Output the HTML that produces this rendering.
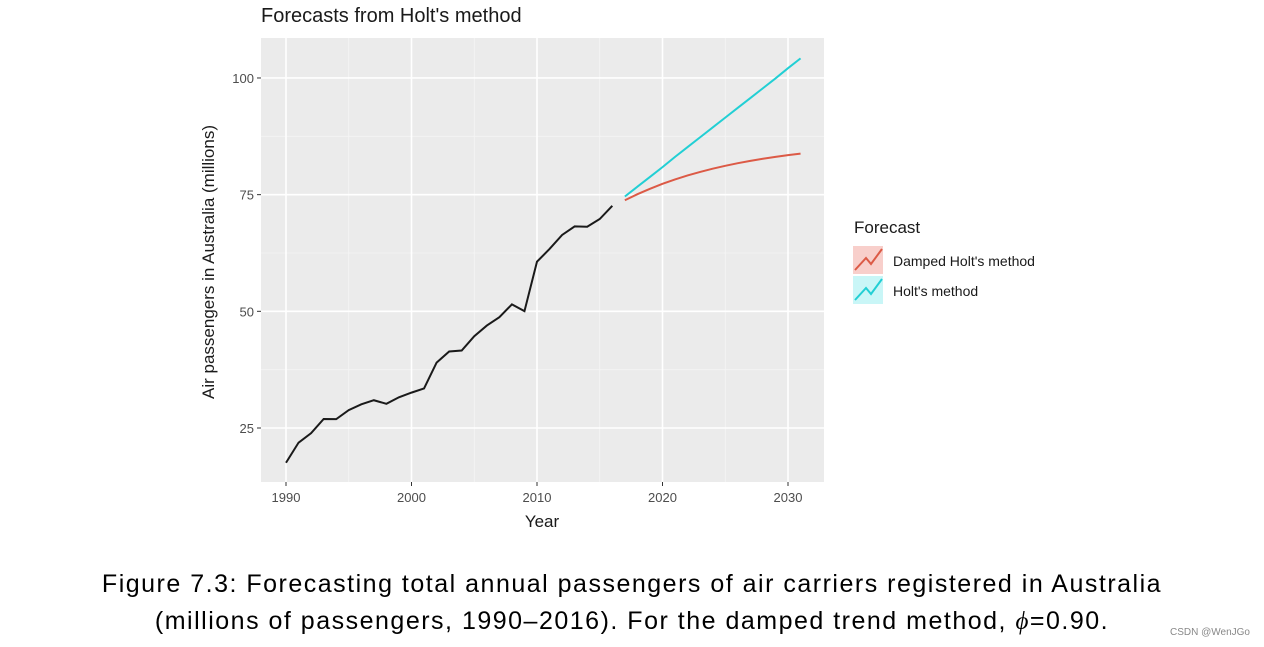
<!DOCTYPE html>
<html><head><meta charset="utf-8"><style>
body{margin:0;background:#fff;width:1264px;height:647px;overflow:hidden;font-family:"Liberation Sans",sans-serif}
svg{position:absolute;left:0;top:0}
.cap{position:absolute;left:0;width:1264px;text-align:center;font-family:"Liberation Sans",sans-serif;font-size:25px;letter-spacing:1.5px;color:#000;line-height:37px;top:566px}
.wm{position:absolute;right:14px;top:627px;font-size:10px;color:#888}
</style></head><body>
<svg id="chart" width="1264" height="647"></svg>
<div class="cap">Figure 7.3: Forecasting total annual passengers of air carriers registered in Australia<br>(millions of passengers, 1990–2016). For the damped trend method, <i style="font-family:'Liberation Serif',serif">ϕ</i>=0.90.</div>
<div class="wm">CSDN @WenJGo</div>
<script>
const years=[1990,1991,1992,1993,1994,1995,1996,1997,1998,1999,2000,2001,2002,2003,2004,2005,2006,2007,2008,2009,2010,2011,2012,2013,2014,2015,2016];
const passengers=[17.55,21.86,23.89,26.93,26.89,28.83,30.08,30.95,30.19,31.58,32.58,33.48,39.02,41.39,41.6,44.66,46.95,48.73,51.49,50.03,60.64,63.36,66.36,68.2,68.12,69.78,72.6];
const fcYears=[2017,2018,2019,2020,2021,2022,2023,2024,2025,2026,2027,2028,2029,2030,2031];
const holt=[74.6,76.7,78.8,80.9,83.1,85.2,87.3,89.4,91.5,93.6,95.7,97.8,99.9,102.1,104.2];
const damped=[73.8,75.1,76.26,77.31,78.26,79.11,79.87,80.56,81.18,81.74,82.24,82.69,83.1,83.47,83.8];
const xTicks=[1990,2000,2010,2020,2030];
const yTicks=[25,50,75,100];

const ns="http://www.w3.org/2000/svg";
const svg=document.getElementById('chart');
const X=v=>286+(v-1990)*12.55;
const Y=v=>428-(v-25)*4.667;
function mk(t,a,txt){const e=document.createElementNS(ns,t);for(const k in a)e.setAttribute(k,a[k]);if(txt!==undefined)e.textContent=txt;svg.appendChild(e);return e;}
let e;
e=mk('rect',{x:261,y:38,width:563,height:444,fill:'#ebebeb'});


for(let v=1995;v<=2025;v+=10){e=mk('line',{x1:X(v),x2:X(v),y1:38,y2:482,stroke:'#f5f5f5','stroke-width':0.8});

}
[37.5,62.5,87.5].forEach(v=>{e=mk('line',{x1:261,x2:824,y1:Y(v),y2:Y(v),stroke:'#f5f5f5','stroke-width':0.8});

});
xTicks.forEach(v=>{e=mk('line',{x1:X(v),x2:X(v),y1:38,y2:482,stroke:'#fff','stroke-width':1.6});


e=mk('line',{x1:X(v),x2:X(v),y1:482,y2:486,stroke:'#333'});


e=mk('text',{x:X(v),y:502,'text-anchor':'middle','font-size':13,fill:'#4d4d4d'},v);

});
yTicks.forEach(v=>{e=mk('line',{x1:261,x2:824,y1:Y(v),y2:Y(v),stroke:'#fff','stroke-width':1.6});


e=mk('line',{x1:257,x2:261,y1:Y(v),y2:Y(v),stroke:'#333'});


e=mk('text',{x:254,y:Y(v)+5,'text-anchor':'end','font-size':13,fill:'#4d4d4d'},v);

});
function line(xs,ys,c,name){e=mk('polyline',{points:xs.map((x,i)=>X(x)+','+Y(ys[i])).join(' '),fill:'none',stroke:c,'stroke-width':2});

}
line(years,passengers,'#1a1a1a','historical-series');
line(fcYears,holt,'#22cfd4','holt-forecast');
line(fcYears,damped,'#dc5a46','damped-holt-forecast');
e=mk('text',{x:261,y:22,'font-size':20,fill:'#1a1a1a'},"Forecasts from Holt's method");


e=mk('text',{x:542,y:527,'text-anchor':'middle','font-size':17,fill:'#1a1a1a'},'Year');


e=mk('text',{x:214,y:262,'text-anchor':'middle','font-size':17,fill:'#1a1a1a',transform:'rotate(-90 214 262)'},'Air passengers in Australia (millions)');


e=mk('text',{x:854,y:233,'font-size':17,fill:'#1a1a1a'},'Forecast');


[['#f8cfcb','#dc5a46',246,"Damped Holt's method"],['#c9f6f7','#22cfd4',276,"Holt's method"]].forEach(([bg,c,y,t])=>{
e=mk('rect',{x:853,y:y,width:30,height:28,fill:bg});


e=mk('polyline',{points:`855,${y+24} 866,${y+12} 871,${y+18} 882,${y+3}`,fill:'none',stroke:c,'stroke-width':2});


e=mk('text',{x:893,y:y+20,'font-size':14,fill:'#1a1a1a'},t);

});
</script>
</body></html>
